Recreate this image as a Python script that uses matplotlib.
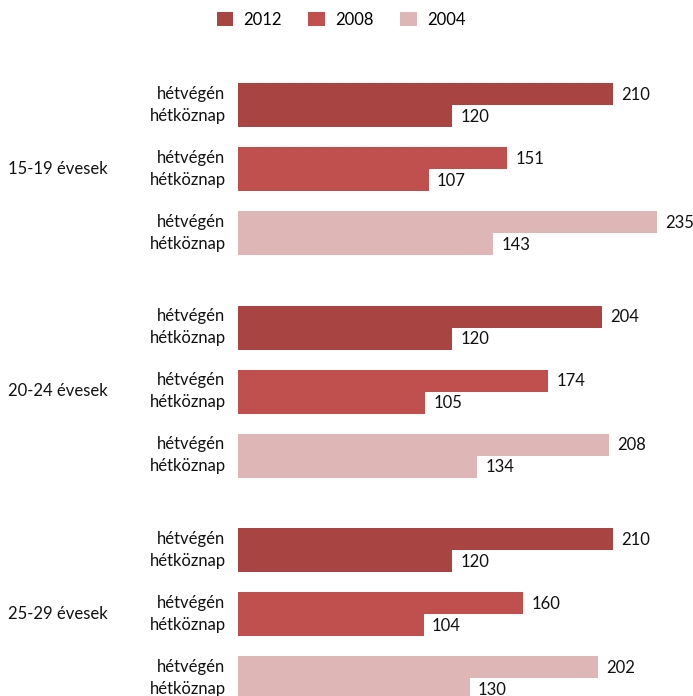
import numpy as np
import matplotlib.pyplot as plt

# data
age_groups = ['15-19 évesek', '20-24 évesek', '25-29 évesek']
years = ['2012', '2008', '2004']
day_labels = ['hétvégén', 'hétköznap']
colors = ['#A84543', '#C0504D', '#DDB6B5']

# [age][year] values
weekend = [[210, 151, 235],
           [204, 174, 208],
           [210, 160, 202]]
weekday = [[120, 107, 143],
           [120, 105, 134],
           [120, 104, 130]]

plt.rcParams['font.family'] = ['Lato', 'DejaVu Sans']
fs = 12

fig = plt.figure(figsize=(6.93, 6.96), dpi=100)
ax = fig.add_axes([238 / 693, 0, 1 - 238 / 693, 1])

# layout in pixel-like units (bar height 22)
bar_h = 22
year_step = 64
age_step = 222.5
top = 83

for a in range(len(age_groups)):
    for y in range(len(years)):
        y0 = top + a * age_step + y * year_step
        yc1 = y0 + bar_h / 2
        yc2 = y0 + bar_h * 1.5
        lbl = years[y] if a == 0 else None
        ax.barh(yc1, weekend[a][y], height=bar_h, color=colors[y], label=lbl)
        ax.barh(yc2, weekday[a][y], height=bar_h, color=colors[y])
        ax.text(weekend[a][y] + 4.5, yc1 + 1, str(weekend[a][y]),
                va='center', ha='left', fontsize=fs, color='#111111')
        ax.text(weekday[a][y] + 4.5, yc2 + 1, str(weekday[a][y]),
                va='center', ha='left', fontsize=fs, color='#111111')
        ax.text(-7, yc1, day_labels[0], va='center', ha='right',
                fontsize=fs, color='#111111')
        ax.text(-7, yc2, day_labels[1], va='center', ha='right',
                fontsize=fs, color='#111111')
    # age label at the middle of the group
    yl = top + a * age_step + year_step + bar_h
    ax.text(-129, yl, age_groups[a], va='center', ha='left',
            fontsize=fs, color='#111111')

ax.set_xlim(0, 255)
ax.set_ylim(696, 0)
ax.axis('off')

fig.legend(loc='upper center', bbox_to_anchor=(0.492, 1.005), ncol=3,
           frameon=False, fontsize=fs, handlelength=1.0, handleheight=1.0,
           columnspacing=1.6, handletextpad=0.6)

fig.savefig('out.png', dpi=100)
